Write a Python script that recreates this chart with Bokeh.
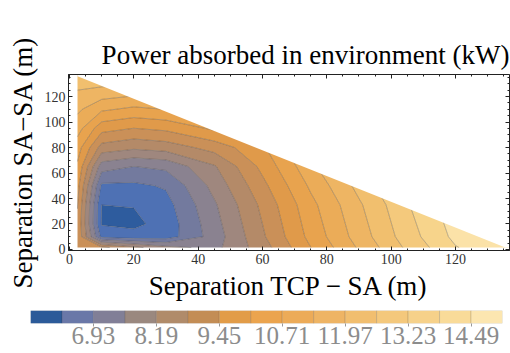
import numpy as np
from bokeh.plotting import figure
from bokeh.layouts import column
from bokeh.models import (Range1d, LinearAxis, FixedTicker, PrintfTickFormatter,
                          SingleIntervalTicker, CustomJSTickFormatter)
from bokeh.embed import file_html
from bokeh.resources import INLINE

# ---------------- data ----------------
# grid nodes: separation TCP - SA (m) and separation SA - SA (m)
sep_tcp_sa = [2.5, 10, 20, 30, 45, 60, 75, 90, 105, 120, 140]
sep_sa_sa = [1.5, 10, 20, 35, 50, 65, 80, 95, 110, 125, 140]
# power absorbed in environment (kW); one row per sep_sa_sa value
power_kw = [
    [10.0, 9.60, 9.00, 8.40, 8.00, 9.15, 10.70, 12.05, 13.35, 14.45, 15.15],
    [10.0, 6.75, 6.55, 6.60, 7.85, 9.35, 10.90, 12.25, 13.55, 14.65, 15.35],
    [10.0, 6.25, 6.15, 6.55, 7.95, 9.45, 11.00, 12.35, 13.65, 14.75, 15.45],
    [10.1, 6.30, 6.33, 6.70, 8.10, 9.60, 11.15, 12.50, 13.80, 14.90, 15.60],
    [10.3, 6.80, 6.80, 7.00, 8.40, 9.90, 11.45, 12.80, 14.10, 15.20, 15.90],
    [10.6, 7.85, 7.55, 7.70, 8.75, 10.25, 11.80, 13.15, 14.45, 15.55, 16.25],
    [11.0, 9.20, 8.95, 9.10, 9.70, 10.60, 12.15, 13.50, 14.80, 15.90, 16.60],
    [11.6, 10.32, 10.07, 10.22, 10.82, 11.42, 12.50, 13.85, 15.15, 16.25, 16.95],
    [12.1, 11.45, 11.20, 11.35, 11.95, 12.55, 13.15, 14.20, 15.50, 16.60, 17.30],
    [12.6, 12.45, 12.30, 12.47, 13.07, 13.67, 14.27, 14.87, 16.00, 17.10, 18.00],
    [13.1, 13.30, 13.45, 13.60, 14.20, 14.80, 15.40, 16.00, 16.60, 17.20, 18.00],
]
# triangular domain corners (m): (x, y) of top-left and bottom-right vertices
domain_top_left = (2.5, 136.0)
domain_bottom_right = (135.5, 1.5)

# contour band edges (kW) and colour-bar labels
band_edges = [5.67, 6.30, 6.93, 7.56, 8.19, 8.82, 9.45, 10.08, 10.71,
              11.34, 11.97, 12.60, 13.23, 13.86, 14.49, 15.12]
bar_labels = [6.93, 8.19, 9.45, 10.71, 11.97, 13.23, 14.49]

# ---------------- styles ----------------
plot_colors = ["#2e5c9e", "#4e71b4", "#737a9e", "#8a8290", "#9f877e",
               "#b48a68", "#ca9058", "#e09a4a", "#e8a34e", "#ebac58",
               "#eeb563", "#f1bf6e", "#f4c97c", "#f7d48b", "#fbe2a8"]
bar_colors = ["#2b5a99", "#6a78a8", "#817f97", "#9a887f", "#b08b6a",
              "#c38d55", "#e29c48", "#eba44e", "#ecab58", "#eeb464",
              "#f1be6f", "#f4c87c", "#f6d18a", "#f9db99", "#fce6b0"]
FONT = "Liberation Serif"

z = np.array(power_kw)
levels = [float(z.min()) - 0.01] + band_edges[1:-1] + [float(z.max()) + 0.01]

p = figure(frame_width=441, frame_height=176,
           x_range=Range1d(-0.3, 136.8), y_range=Range1d(-0.8, 137.3),
           output_backend="svg", toolbar_location=None,
           min_border_left=68, min_border_right=1, min_border_top=74,
           min_border_bottom=53)
p.frame_align = False
p.grid.visible = False
p.background_fill_color = "white"
p.outline_line_color = "#222222"

p.contour(x=sep_tcp_sa, y=sep_sa_sa, z=z, levels=levels,
          fill_color=plot_colors, line_color="#333333", line_alpha=0.45,
          line_width=0.7)

# white mask outside the triangular domain
big = 400
mx = [domain_top_left[0], domain_top_left[0], big, big, domain_bottom_right[0]]
my = [domain_top_left[1], big, big, domain_bottom_right[1], domain_bottom_right[1]]
p.patch(mx, my, fill_color="white", line_color=None)

top_axis = LinearAxis()
right_axis = LinearAxis()
p.add_layout(top_axis, "above")
p.add_layout(right_axis, "right")
bottom_axis = p.below[0]
left_axis = p.left[0]
for ax in (bottom_axis, left_axis, top_axis, right_axis):
    ax.ticker = SingleIntervalTicker(interval=20, num_minor_ticks=4)
    ax.major_tick_in = 4
    ax.major_tick_out = 0
    ax.minor_tick_in = 2
    ax.minor_tick_out = 0
    ax.axis_line_color = "#222222"
    ax.major_tick_line_color = "#222222"
    ax.minor_tick_line_color = "#222222"
    ax.major_label_text_font = FONT
    ax.major_label_text_font_size = "14px"
    ax.major_label_text_color = "#333333"
    ax.major_label_standoff = 3
for ax in (top_axis, right_axis):
    ax.formatter = CustomJSTickFormatter(code="return ''")
    ax.major_label_standoff = 0
# the (empty) top labels reserve the gap between the title and the frame
top_axis.major_label_text_font_size = "23px"

bottom_axis.axis_label = "Separation TCP \u2212 SA (m)"
left_axis.axis_label = "Separation SA\u2212SA (m)"
for ax in (bottom_axis, left_axis):
    ax.axis_label_text_font = FONT
    ax.axis_label_text_font_size = "27px"
    ax.axis_label_text_font_style = "normal"
    ax.axis_label_text_color = "black"
    ax.axis_label_standoff = 4

p.title.text = "Power absorbed in environment (kW)"
p.title.align = "right"
p.title.text_font = FONT
p.title.text_font_size = "27px"
p.title.text_font_style = "normal"
p.title.text_color = "black"

# ---------------- colour bar ----------------
cb = figure(frame_width=472, frame_height=13,
            x_range=Range1d(band_edges[0], band_edges[-1]), y_range=Range1d(0, 1),
            output_backend="svg", toolbar_location=None,
            min_border_left=30, min_border_right=8, min_border_top=7,
            min_border_bottom=30)
cb.frame_align = False
cb.grid.visible = False
cb.outline_line_color = None
cb.yaxis.visible = False
cb.quad(left=band_edges[:-1], right=band_edges[1:], bottom=0, top=1,
        fill_color=bar_colors, line_color="#000000", line_alpha=0.12)
xa = cb.below[0]
xa.ticker = FixedTicker(ticks=bar_labels)
xa.formatter = PrintfTickFormatter(format="%.2f")
xa.axis_line_color = None
xa.major_tick_in = 0
xa.major_tick_out = 3
xa.minor_tick_line_color = None
xa.major_tick_line_color = "#999999"
xa.major_label_text_font = FONT
xa.major_label_text_font_size = "25px"
xa.major_label_text_color = "#8c8c8c"
xa.major_label_standoff = 0

layout = column(p, cb, spacing=0)
open("out.html", "w").write(file_html(layout, INLINE))
